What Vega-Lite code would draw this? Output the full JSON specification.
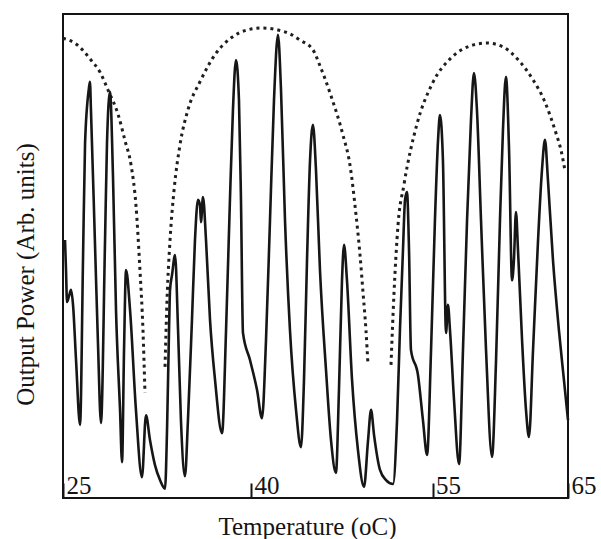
{
  "$schema": "https://vega.github.io/schema/vega-lite/v6.json",
  "width": 505,
  "height": 484,
  "autosize": {"type": "none"},
  "padding": {"left": 63, "top": 14, "right": 33, "bottom": 41},
  "background": "white",
  "config": {
    "view": {"stroke": "#141414", "strokeWidth": 2},
    "font": "Liberation Serif"
  },
  "datasets": {
    "trace": [
      {"T": 25.16, "P": 53.3}, {"T": 25.24, "P": 47.1}, {"T": 25.32, "P": 40.5}, {"T": 25.48, "P": 41.7},
      {"T": 25.64, "P": 43.0}, {"T": 25.80, "P": 39.9}, {"T": 26.04, "P": 28.5}, {"T": 26.36, "P": 15.1},
      {"T": 26.60, "P": 49.8}, {"T": 26.76, "P": 73.3}, {"T": 27.07, "P": 84.7}, {"T": 27.15, "P": 86.0},
      {"T": 27.23, "P": 80.2}, {"T": 27.55, "P": 52.7}, {"T": 27.79, "P": 32.0}, {"T": 28.03, "P": 15.5},
      {"T": 28.35, "P": 52.7}, {"T": 28.51, "P": 73.3}, {"T": 28.75, "P": 83.9}, {"T": 28.99, "P": 66.3},
      {"T": 29.23, "P": 38.8}, {"T": 29.55, "P": 18.2}, {"T": 29.71, "P": 7.4}, {"T": 29.87, "P": 30.6},
      {"T": 30.03, "P": 47.1}, {"T": 30.35, "P": 38.8}, {"T": 30.82, "P": 18.2}, {"T": 31.30, "P": 4.3},
      {"T": 31.62, "P": 17.1}, {"T": 31.94, "P": 12.0}, {"T": 32.34, "P": 6.8}, {"T": 32.74, "P": 3.7},
      {"T": 33.14, "P": 1.9}, {"T": 33.30, "P": 14.0}, {"T": 33.46, "P": 34.7}, {"T": 33.54, "P": 43.0},
      {"T": 33.70, "P": 46.1}, {"T": 33.94, "P": 50.2}, {"T": 34.18, "P": 34.7}, {"T": 34.41, "P": 16.1},
      {"T": 34.73, "P": 4.5}, {"T": 34.97, "P": 16.1}, {"T": 35.29, "P": 36.8}, {"T": 35.53, "P": 53.3},
      {"T": 35.77, "P": 61.6}, {"T": 35.93, "P": 60.5}, {"T": 36.01, "P": 57.0}, {"T": 36.17, "P": 62.2},
      {"T": 36.41, "P": 53.3}, {"T": 36.73, "P": 36.8}, {"T": 37.13, "P": 24.4}, {"T": 37.69, "P": 13.4},
      {"T": 38.01, "P": 34.7}, {"T": 38.32, "P": 61.6}, {"T": 38.56, "P": 80.2}, {"T": 38.80, "P": 90.5},
      {"T": 39.04, "P": 82.2}, {"T": 39.20, "P": 61.6}, {"T": 39.36, "P": 34.1}, {"T": 39.92, "P": 28.5},
      {"T": 40.50, "P": 22.3}, {"T": 40.91, "P": 16.5}, {"T": 41.24, "P": 32.6}, {"T": 41.57, "P": 57.4},
      {"T": 41.90, "P": 82.2}, {"T": 42.23, "P": 95.7}, {"T": 42.48, "P": 84.3}, {"T": 42.81, "P": 57.4},
      {"T": 43.22, "P": 34.7}, {"T": 43.72, "P": 18.2}, {"T": 44.13, "P": 10.5}, {"T": 44.38, "P": 24.4},
      {"T": 44.63, "P": 49.2}, {"T": 44.88, "P": 69.8}, {"T": 45.12, "P": 77.1}, {"T": 45.37, "P": 67.8},
      {"T": 45.70, "P": 47.1}, {"T": 46.20, "P": 26.4}, {"T": 46.61, "P": 12.0}, {"T": 47.02, "P": 5.2},
      {"T": 47.27, "P": 22.3}, {"T": 47.52, "P": 45.0}, {"T": 47.69, "P": 52.3}, {"T": 47.93, "P": 45.0},
      {"T": 48.35, "P": 24.4}, {"T": 48.84, "P": 9.9}, {"T": 49.34, "P": 2.3}, {"T": 49.67, "P": 11.8},
      {"T": 49.92, "P": 18.2}, {"T": 50.17, "P": 13.0}, {"T": 50.66, "P": 5.8}, {"T": 51.16, "P": 3.7},
      {"T": 51.74, "P": 2.9}, {"T": 52.07, "P": 16.1}, {"T": 52.31, "P": 34.7}, {"T": 52.56, "P": 51.2},
      {"T": 52.73, "P": 61.6}, {"T": 52.89, "P": 63.2}, {"T": 53.06, "P": 51.2}, {"T": 53.22, "P": 30.6},
      {"T": 53.80, "P": 25.4}, {"T": 54.21, "P": 16.1}, {"T": 54.55, "P": 8.9}, {"T": 54.88, "P": 30.6},
      {"T": 55.18, "P": 57.4}, {"T": 55.41, "P": 74.0}, {"T": 55.55, "P": 79.1}, {"T": 55.77, "P": 69.8},
      {"T": 56.00, "P": 34.1}, {"T": 56.14, "P": 39.9}, {"T": 56.29, "P": 34.7}, {"T": 56.59, "P": 20.2},
      {"T": 56.96, "P": 7.0}, {"T": 57.25, "P": 30.6}, {"T": 57.55, "P": 57.4}, {"T": 57.84, "P": 78.1},
      {"T": 58.06, "P": 87.8}, {"T": 58.28, "P": 80.2}, {"T": 58.58, "P": 57.4}, {"T": 58.95, "P": 30.6},
      {"T": 59.39, "P": 8.5}, {"T": 59.69, "P": 28.5}, {"T": 59.98, "P": 57.4}, {"T": 60.20, "P": 76.0},
      {"T": 60.42, "P": 87.0}, {"T": 60.65, "P": 71.9}, {"T": 60.87, "P": 45.0}, {"T": 61.01, "P": 49.2},
      {"T": 61.16, "P": 59.1}, {"T": 61.31, "P": 51.2}, {"T": 61.61, "P": 32.6}, {"T": 61.90, "P": 18.2},
      {"T": 62.12, "P": 12.6}, {"T": 62.42, "P": 30.6}, {"T": 62.79, "P": 53.3}, {"T": 63.08, "P": 67.8},
      {"T": 63.30, "P": 74.0}, {"T": 63.52, "P": 65.7}, {"T": 63.89, "P": 49.2}, {"T": 64.33, "P": 34.7},
      {"T": 64.70, "P": 24.4}, {"T": 65.00, "P": 16.1}
    ],
    "envelope": [
      {"arc": 1, "T": 25.00, "P": 95.0}, {"arc": 1, "T": 26.04, "P": 93.8}, {"arc": 1, "T": 27.23, "P": 90.5},
      {"arc": 1, "T": 27.95, "P": 88.0}, {"arc": 1, "T": 28.59, "P": 84.3}, {"arc": 1, "T": 29.39, "P": 79.3},
      {"arc": 1, "T": 29.95, "P": 73.8}, {"arc": 1, "T": 30.43, "P": 68.8}, {"arc": 1, "T": 30.82, "P": 60.5},
      {"arc": 1, "T": 31.14, "P": 47.1}, {"arc": 1, "T": 31.38, "P": 34.7}, {"arc": 1, "T": 31.54, "P": 21.7},
      {"arc": 2, "T": 33.14, "P": 27.1}, {"arc": 2, "T": 33.30, "P": 40.9}, {"arc": 2, "T": 33.54, "P": 53.3},
      {"arc": 2, "T": 33.86, "P": 63.6}, {"arc": 2, "T": 34.33, "P": 72.9}, {"arc": 2, "T": 34.97, "P": 80.2},
      {"arc": 2, "T": 35.93, "P": 86.0}, {"arc": 2, "T": 37.21, "P": 91.9}, {"arc": 2, "T": 38.48, "P": 95.2},
      {"arc": 2, "T": 39.68, "P": 96.7}, {"arc": 2, "T": 40.91, "P": 97.1}, {"arc": 2, "T": 42.23, "P": 96.7},
      {"arc": 2, "T": 43.22, "P": 95.9}, {"arc": 2, "T": 44.05, "P": 94.6}, {"arc": 2, "T": 45.12, "P": 92.6},
      {"arc": 2, "T": 45.70, "P": 89.3}, {"arc": 2, "T": 46.61, "P": 83.1}, {"arc": 2, "T": 47.60, "P": 75.0},
      {"arc": 2, "T": 48.18, "P": 68.8}, {"arc": 2, "T": 48.68, "P": 58.5}, {"arc": 2, "T": 49.01, "P": 50.2},
      {"arc": 2, "T": 49.26, "P": 42.4}, {"arc": 2, "T": 49.50, "P": 34.7}, {"arc": 2, "T": 49.67, "P": 27.5},
      {"arc": 3, "T": 51.57, "P": 27.5}, {"arc": 3, "T": 51.82, "P": 42.4}, {"arc": 3, "T": 52.15, "P": 56.4},
      {"arc": 3, "T": 52.64, "P": 64.7}, {"arc": 3, "T": 53.72, "P": 77.3}, {"arc": 3, "T": 54.96, "P": 85.5},
      {"arc": 3, "T": 56.44, "P": 91.1}, {"arc": 3, "T": 57.77, "P": 93.4}, {"arc": 3, "T": 59.02, "P": 94.0},
      {"arc": 3, "T": 60.20, "P": 93.2}, {"arc": 3, "T": 61.46, "P": 90.1}, {"arc": 3, "T": 62.42, "P": 86.4},
      {"arc": 3, "T": 63.30, "P": 81.8}, {"arc": 3, "T": 64.11, "P": 75.4}, {"arc": 3, "T": 64.48, "P": 71.9},
      {"arc": 3, "T": 64.78, "P": 67.6}
    ]
  },
  "encoding": {
    "x": {
      "field": "T",
      "type": "quantitative",
      "scale": {"domain": [25, 40, 55, 65], "range": [0, 188, 369.5, 505], "nice": false, "zero": false},
      "axis": {
        "values": [25, 40, 55, 65],
        "format": "d",
        "domain": false,
        "grid": false,
        "ticks": true,
        "tickSize": -15,
        "tickWidth": 2,
        "tickColor": "#141414",
        "labelAlign": "left",
        "labelBaseline": "alphabetic",
        "labelPadding": 10,
        "labelOffset": 3,
        "labelFont": "Liberation Serif",
        "labelFontSize": 25,
        "labelColor": "#141414",
        "labelFlush": false,
        "labelOverlap": false,
        "labelBound": false,
        "title": "Temperature (oC)",
        "titleFont": "Liberation Serif",
        "titleFontSize": 25,
        "titleFontWeight": "normal",
        "titleColor": "#141414",
        "titleX": 244,
        "titleY": 36,
        "titleBaseline": "alphabetic",
        "titleAlign": "center"
      }
    },
    "y": {
      "field": "P",
      "type": "quantitative",
      "scale": {"domain": [0, 100], "nice": false, "zero": false},
      "axis": {
        "title": "Output Power (Arb. units)",
        "labels": false,
        "ticks": false,
        "domain": false,
        "grid": false,
        "titleFont": "Liberation Serif",
        "titleFontSize": 25,
        "titleFontWeight": "normal",
        "titleColor": "#141414",
        "titleX": -30,
        "titleY": 260,
        "titleAngle": -90,
        "titleBaseline": "alphabetic",
        "titleAlign": "center"
      }
    }
  },
  "layer": [
    {
      "data": {"name": "envelope"},
      "mark": {"type": "line", "color": "#1e1e1e", "strokeWidth": 3, "strokeDash": [3, 4], "interpolate": "monotone"},
      "encoding": {"detail": {"field": "arc", "type": "nominal"}}
    },
    {
      "data": {"name": "trace"},
      "mark": {"type": "line", "color": "#161616", "strokeWidth": 2.6, "interpolate": "monotone"},
      "encoding": {}
    }
  ]
}
